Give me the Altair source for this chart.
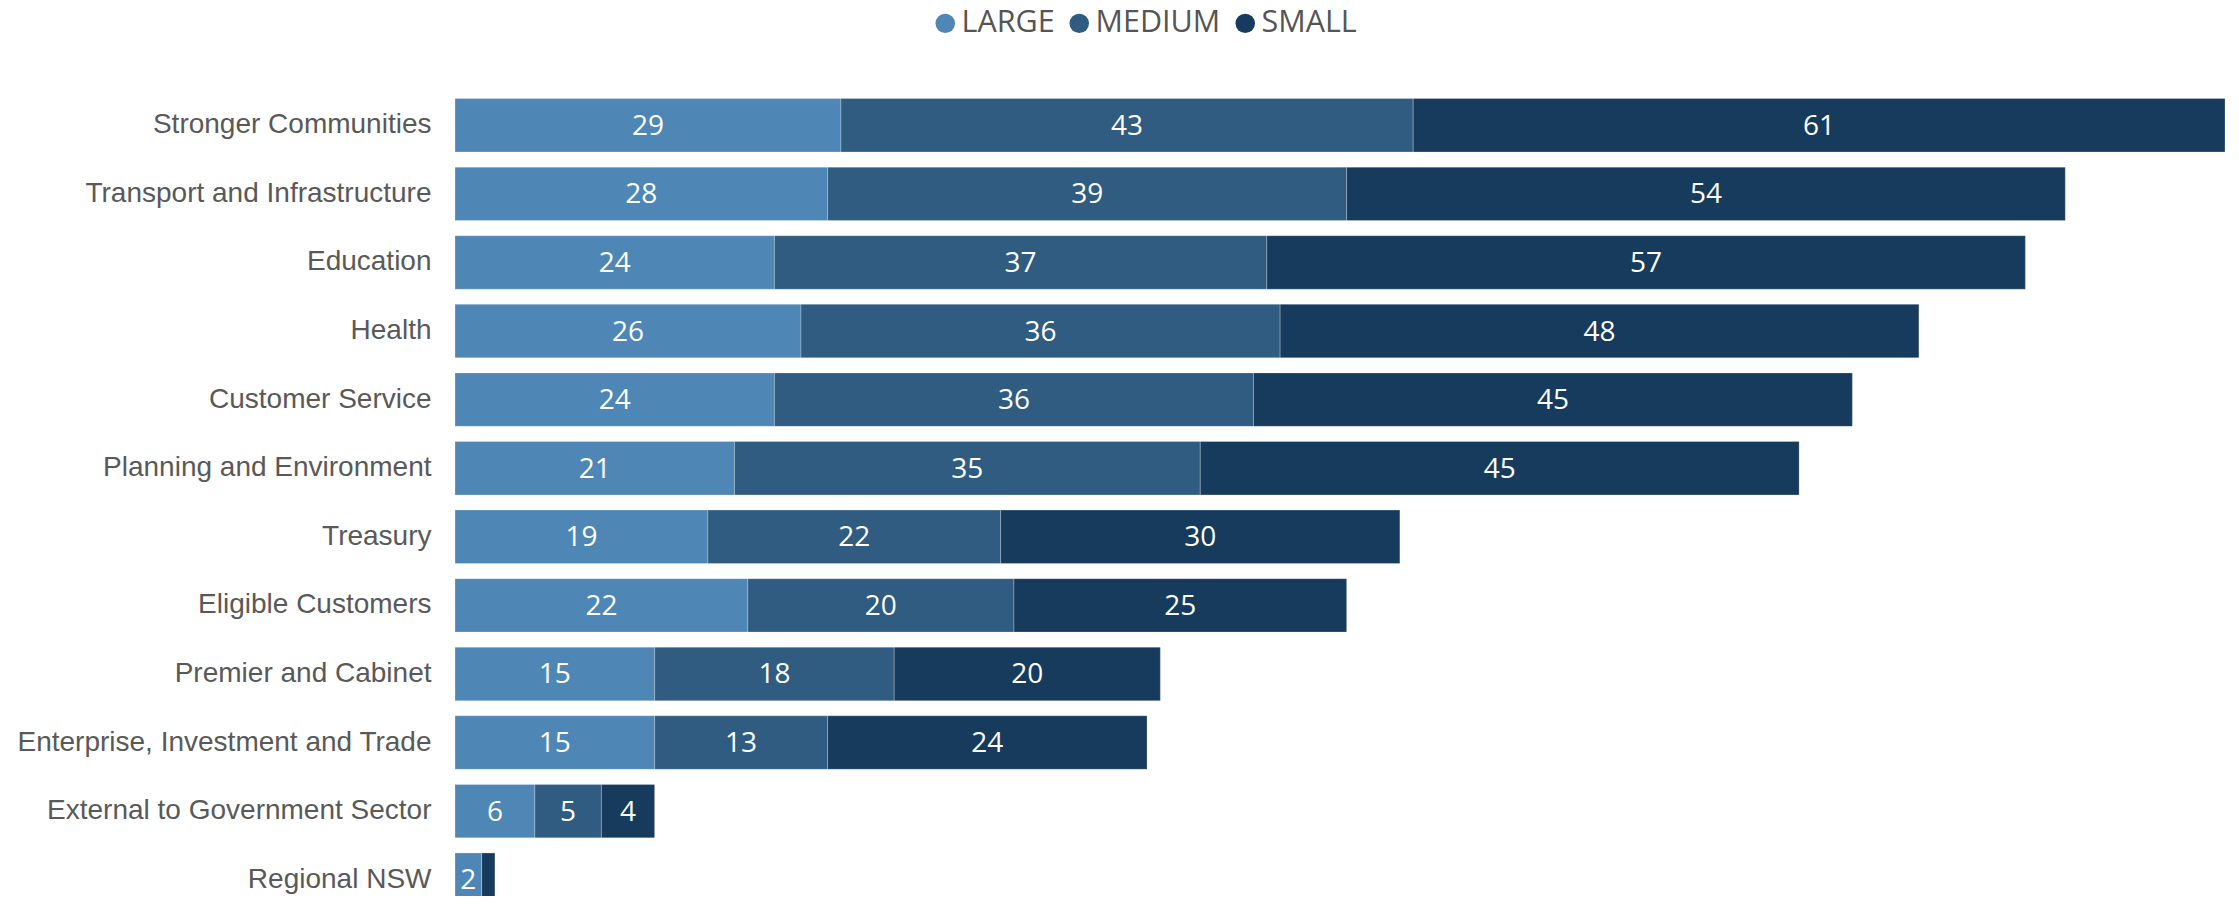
import altair as alt
import pandas as pd

categories = [
    "Stronger Communities",
    "Transport and Infrastructure",
    "Education",
    "Health",
    "Customer Service",
    "Planning and Environment",
    "Treasury",
    "Eligible Customers",
    "Premier and Cabinet",
    "Enterprise, Investment and Trade",
    "External to Government Sector",
    "Regional NSW",
]
large = [29, 28, 24, 26, 24, 21, 19, 22, 15, 15, 6, 2]
medium = [43, 39, 37, 36, 36, 35, 22, 20, 18, 13, 5, 0]
small = [61, 54, 57, 48, 45, 45, 30, 25, 20, 24, 4, 1]

sizes = ["LARGE", "MEDIUM", "SMALL"]
colors = ["#4e86b5", "#2f5c80", "#163b5d"]

rows = []
for i, c in enumerate(categories):
    for k, (s, vals) in enumerate(zip(sizes, [large, medium, small])):
        rows.append({"category": c, "size": s, "order": k, "value": vals[i]})
df = pd.DataFrame(rows)

base = alt.Chart(df).transform_stack(
    stack="value",
    groupby=["category"],
    as_=["x0", "x1"],
    sort=[alt.SortField("order", order="ascending")],
).transform_calculate(mid="(datum.x0 + datum.x1) / 2")

yscale = alt.Scale(paddingInner=0.22, paddingOuter=0.11, range=[0, 823])
xscale = alt.Scale(domain=[0, 133], nice=False, zero=True)

yaxis = alt.Axis(
    domain=False,
    ticks=False,
    grid=False,
    labelPadding=24,
    labelFont="Liberation Sans",
    labelFontSize=28,
    labelColor="#595959",
    labelLimit=600,
)

bars = base.mark_bar(stroke="#ffffff", strokeOpacity=0.25, strokeWidth=1).encode(
    x=alt.X("x0:Q", scale=xscale, axis=None),
    x2="x1:Q",
    y=alt.Y("category:N", sort=categories, title=None, scale=yscale, axis=yaxis),
    color=alt.Color(
        "size:N",
        scale=alt.Scale(domain=sizes, range=colors),
        legend=alt.Legend(
            title=None,
            orient="none",
            direction="horizontal",
            legendX=475,
            legendY=-83,
            symbolType="circle",
            symbolSize=380,
            symbolStrokeWidth=0,
            symbolOpacity=1,
            labelFont="Open Sans",
            labelFontSize=30.5,
            labelColor="#555555",
            labelOffset=1,
            columnPadding=9,
        ),
    ),
)

text = base.transform_filter("datum.value >= 2").mark_text(
    color="white", font="Open Sans", fontSize=28, baseline="middle", dy=1.5
).encode(
    x=alt.X("mid:Q", scale=xscale, axis=None),
    y=alt.Y("category:N", sort=categories, title=None, scale=yscale, axis=yaxis),
    text="value:Q",
)

chart = (
    alt.layer(bars, text)
    .properties(
        width=1770,
        height=805,
        padding={"left": 447, "top": 83, "right": 0, "bottom": 0},
        autosize=alt.AutoSizeParams(type="none"),
        background="white",
    )
    .configure_view(stroke=None, strokeWidth=0)
    .configure_axis(grid=False, domain=False, ticks=False)
)

chart.save("out.html", embed_options={"renderer": "svg", "actions": False})
